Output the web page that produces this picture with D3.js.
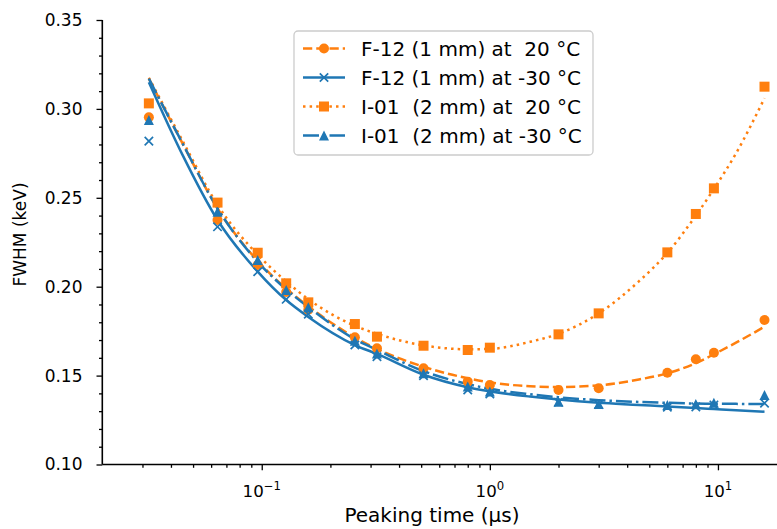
<!DOCTYPE html>
<html><head><meta charset="utf-8">
<script src="https://cdn.jsdelivr.net/npm/d3@7"></script>
<style>
html,body{margin:0;padding:0;background:#fff;}
svg text{font-family:"DejaVu Sans",sans-serif;fill:#000;}
</style></head>
<body><svg id="c" width="777" height="529"></svg>
<script>
// ---- data ----
const peakingTimes = [0.032, 0.064, 0.096, 0.128, 0.16, 0.256, 0.32, 0.512, 0.8, 1.0, 2, 3, 6, 8, 9.6, 16];
const f12Warm = [0.2953, 0.2375, 0.2122, 0.197, 0.187, 0.1715, 0.1654, 0.1541, 0.1466, 0.1447, 0.1419, 0.1429, 0.1516, 0.1592, 0.1629, 0.1813];
const f12Cold = [0.2819, 0.2337, 0.2084, 0.1929, 0.1846, 0.1672, 0.1606, 0.1500, 0.1419, 0.1397, 0.1350, 0.1338, 0.1322, 0.1324, 0.1335, 0.1345];
const i01Warm = [0.3031, 0.2473, 0.2191, 0.2019, 0.1912, 0.1790, 0.1719, 0.1668, 0.1644, 0.1657, 0.1732, 0.1850, 0.2193, 0.2409, 0.2553, 0.3125];
const i01Cold = [0.2938, 0.2422, 0.2150, 0.1981, 0.1884, 0.1696, 0.1625, 0.1513, 0.1438, 0.1410, 0.1353, 0.1340, 0.1335, 0.1340, 0.1348, 0.1391];

// fitted curves
const fitTimes = [0.032, 0.045, 0.064, 0.096, 0.128, 0.16, 0.256, 0.32, 0.512, 0.8, 1.0, 1.5, 2, 3, 4.5, 6, 8, 9.6, 12, 16];
const fitF12Warm = [0.317, 0.2805, 0.2440, 0.2145, 0.1990, 0.1890, 0.1715, 0.1650, 0.1550, 0.1485, 0.1462, 0.1440, 0.1436, 0.1445, 0.1478, 0.1513, 0.1570, 0.1620, 0.1685, 0.1775];
const fitF12Cold = [0.315, 0.274, 0.2375, 0.2085, 0.1925, 0.1830, 0.1672, 0.1622, 0.1505, 0.1435, 0.1412, 0.1382, 0.1365, 0.1347, 0.1335, 0.1326, 0.1318, 0.1312, 0.1305, 0.1297];
const fitI01Warm = [0.3175, 0.2820, 0.2460, 0.2180, 0.2030, 0.1930, 0.1780, 0.1735, 0.1670, 0.1648, 0.1650, 0.1690, 0.1735, 0.1850, 0.2030, 0.2190, 0.2400, 0.2550, 0.2750, 0.3060];
const fitI01Cold = [0.317, 0.2805, 0.2440, 0.2140, 0.1985, 0.1885, 0.1705, 0.1645, 0.1525, 0.1452, 0.1426, 0.1395, 0.1378, 0.1362, 0.1352, 0.1347, 0.1343, 0.1342, 0.1341, 0.1340];

const seriesNames = ["F-12 (1 mm) at  20 °C", "F-12 (1 mm) at -30 °C", "I-01  (2 mm) at  20 °C", "I-01  (2 mm) at -30 °C"];
const yTicks = [0.10, 0.15, 0.20, 0.25, 0.30, 0.35];
const xMajorTicks = [0.1, 1, 10];
const xTickExponents = ["\u22121", "0", "1"];
const xLabel = "Peaking time (\u00b5s)";
const yLabel = "FWHM (keV)";

// ---- layout ----
const svg = d3.select("#c");
const L = 102.3, R = 777, T = 20, B = 464.5;
const x = d3.scaleLog().domain([0.02, 18.15]).range([L, R]);
const y = d3.scaleLinear().domain([0.10, 0.35]).range([B, T]);
const orange = "#ff7f0e", blue = "#1f77b4";
const LW = 2.5;

const series = [
  {name: seriesNames[0], vals: f12Warm, fit: fitF12Warm, color: orange, dash: "9.25,4", marker: "circle"},
  {name: seriesNames[1], vals: f12Cold, fit: fitF12Cold, color: blue, dash: null, marker: "x"},
  {name: seriesNames[2], vals: i01Warm, fit: fitI01Warm, color: orange, dash: "2.5,4.1", marker: "square"},
  {name: seriesNames[3], vals: i01Cold, fit: fitI01Cold, color: blue, dash: "16,4,2.5,4", marker: "triangle"}
];

// ---- axes ----
const tickFs = 17, labelFs = 20, yLabelFs = 17, legendFs = 20;
const yAxis = d3.axisLeft(y).tickValues(yTicks).tickFormat(d3.format(".2f")).tickSize(5.8).tickPadding(14);
const gy = svg.append("g").attr("transform", `translate(${L},0)`).call(yAxis);
const yMinor = d3.axisLeft(y).tickValues(d3.range(0.10, 0.3501, 0.01).filter(v => Math.abs(v*20 - Math.round(v*20)) > 1e-6)).tickFormat("").tickSize(3.3);
svg.append("g").attr("transform", `translate(${L},0)`).call(yMinor);
const xAxis = d3.axisBottom(x).tickValues(xMajorTicks).tickFormat("").tickSize(5.8);
svg.append("g").attr("transform", `translate(0,${B})`).call(xAxis);
const minorX = [];
[0.01, 0.1, 1, 10].forEach(dec => { for (let k = 2; k <= 9; k++) { const v = dec*k; if (v > 0.02 && v < 18.15) minorX.push(v); } });
svg.append("g").attr("transform", `translate(0,${B})`).call(d3.axisBottom(x).tickValues(minorX).tickFormat("").tickSize(3.3));

svg.selectAll(".domain").remove();
svg.selectAll(".tick line").attr("stroke", "#000").attr("stroke-width", 1.3);
svg.append("line").attr("x1", L).attr("x2", R).attr("y1", B).attr("y2", B).attr("stroke", "#000").attr("stroke-width", 1.6);
svg.append("line").attr("x1", L).attr("x2", L).attr("y1", T).attr("y2", B).attr("stroke", "#000").attr("stroke-width", 1.6);

gy.selectAll(".tick text").attr("font-size", tickFs).attr("font-family", "DejaVu Sans").attr("fill", "#000");

xMajorTicks.forEach((v, i) => {
  const t = svg.append("text").attr("x", x(v)).attr("y", B + 32).attr("text-anchor", "middle").attr("font-size", 16.67);
  t.append("tspan").text("10");
  t.append("tspan").attr("dy", -7).attr("font-size", 16.67 * 0.7).text(xTickExponents[i]);
});

svg.append("text").attr("x", 432).attr("y", 522).attr("text-anchor", "middle").attr("font-size", labelFs).text(xLabel);
svg.append("text").attr("transform", `translate(26,234.5) rotate(-90)`).attr("text-anchor", "middle").attr("font-size", yLabelFs).text(yLabel);

// ---- marks ----
const plot = svg.append("g");
const line = d3.line().x(d => x(d[0])).y(d => y(d[1])).curve(d3.curveMonotoneX);

function drawMarker(g, type, cx, cy, color) {
  const s = 10;
  if (type === "circle") g.append("circle").attr("cx", cx).attr("cy", cy).attr("r", s/2).attr("fill", color);
  else if (type === "square") g.append("rect").attr("x", cx - s/2).attr("y", cy - s/2).attr("width", s).attr("height", s).attr("fill", color);
  else if (type === "triangle") g.append("path").attr("d", `M${cx},${cy - s/2}L${cx - s/2},${cy + s/2}L${cx + s/2},${cy + s/2}Z`).attr("fill", color);
  else if (type === "x") { const h = 4.2; g.append("path").attr("d", `M${cx - h},${cy - h}L${cx + h},${cy + h}M${cx - h},${cy + h}L${cx + h},${cy - h}`).attr("stroke", color).attr("stroke-width", 1.7).attr("fill", "none"); }
}

series.forEach(s => {
  plot.append("path").datum(fitTimes.map((t, i) => [t, s.fit[i]]))
    .attr("d", line).attr("fill", "none").attr("stroke", s.color).attr("stroke-width", LW)
    .attr("stroke-dasharray", s.dash);
});
series.forEach(s => {
  const g = plot.append("g");
  peakingTimes.forEach((t, i) => drawMarker(g, s.marker, x(t), y(s.vals[i]), s.color));
});

// ---- legend ----
const lg = svg.append("g");
lg.append("rect").attr("x", 294).attr("y", 31).attr("width", 299).attr("height", 124).attr("rx", 4)
  .attr("fill", "#fff").attr("fill-opacity", 0.8).attr("stroke", "#ccc").attr("stroke-width", 1.3);
series.forEach((s, i) => {
  const cy = 48.5 + i * 29;
  lg.append("line").attr("x1", 303).attr("x2", 345).attr("y1", cy).attr("y2", cy)
    .attr("stroke", s.color).attr("stroke-width", LW).attr("stroke-dasharray", s.dash);
  drawMarker(lg, s.marker, 324, cy, s.color);
  lg.append("text").attr("x", 361).attr("y", cy + 7).attr("font-size", legendFs).attr("xml:space", "preserve").style("white-space", "pre").text(s.name);
});
</script></body></html>
